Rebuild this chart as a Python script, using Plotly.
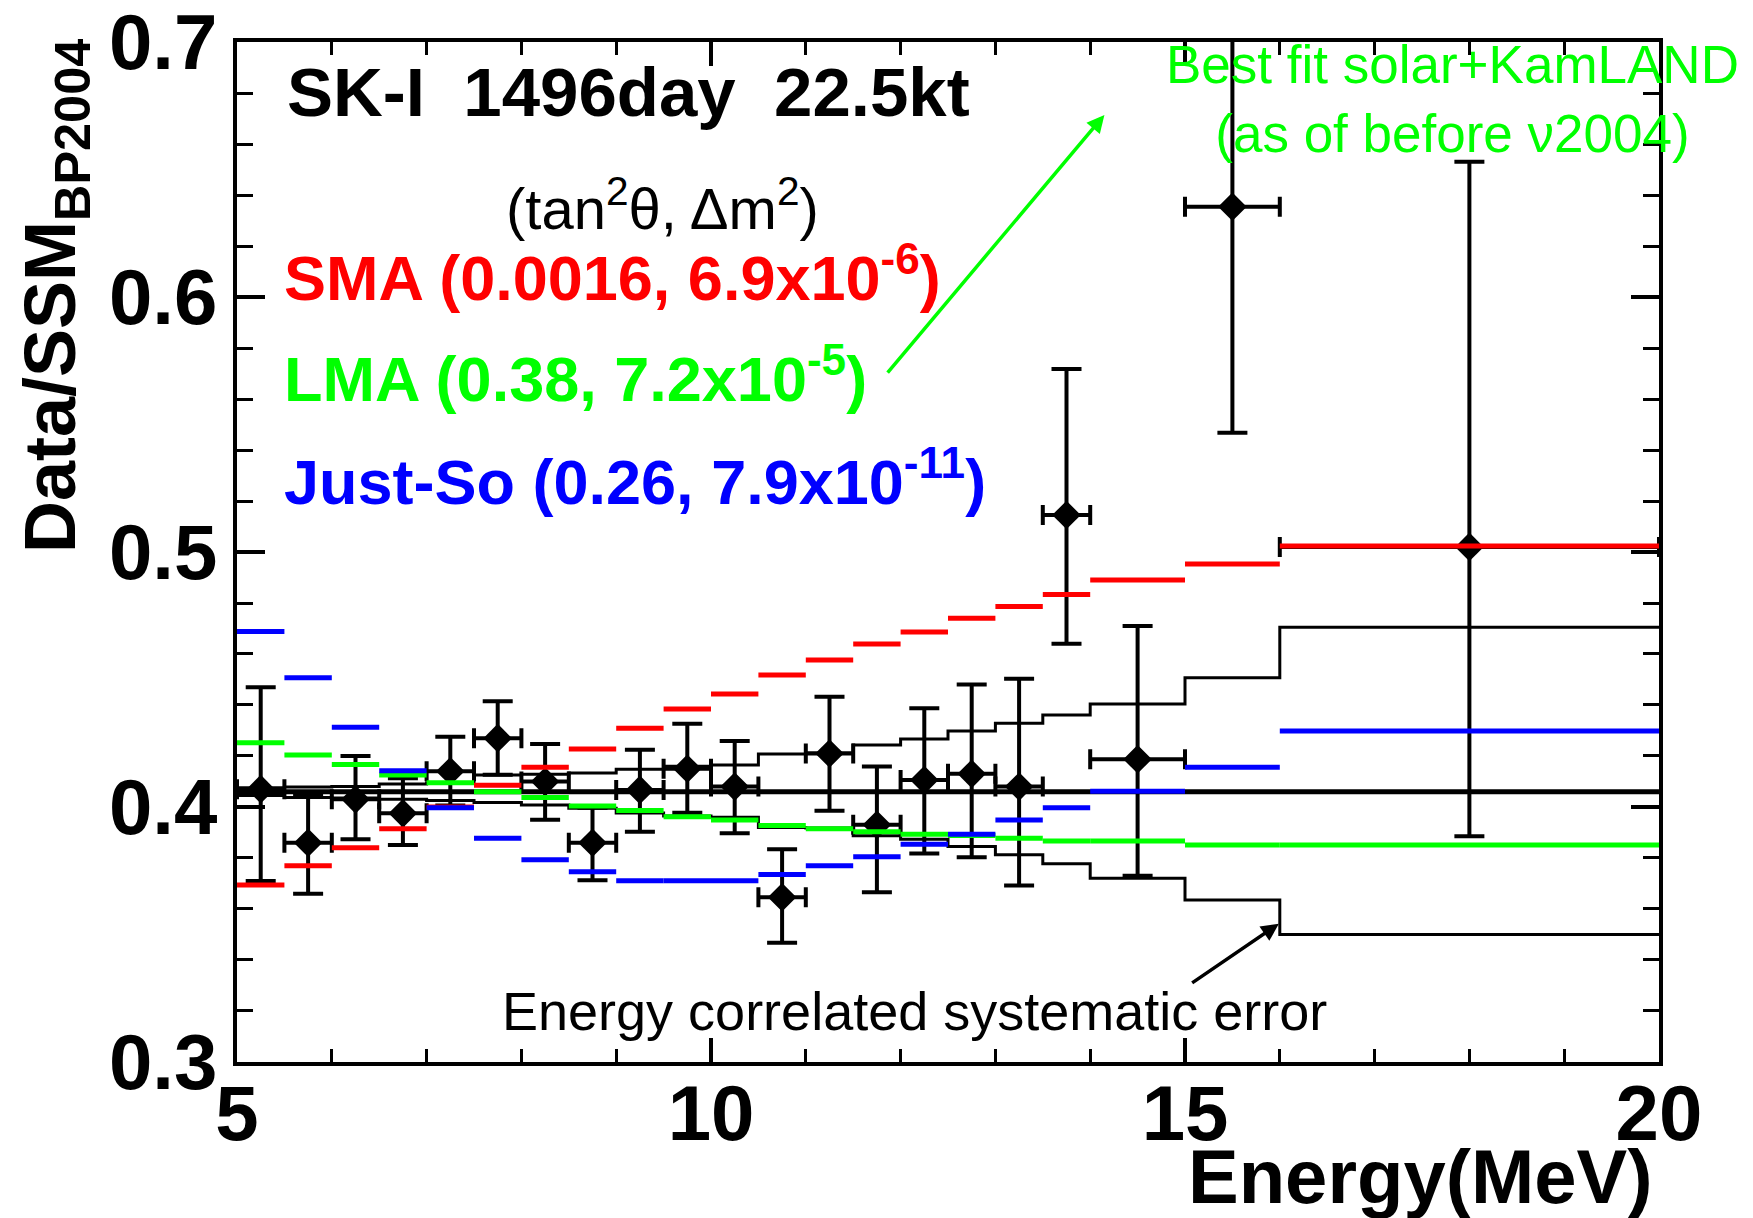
import plotly.graph_objects as go

# ---------------- data ----------------
bin_lo = [5.0, 5.5, 6.0, 6.5, 7.0, 7.5, 8.0, 8.5, 9.0, 9.5, 10.0, 10.5, 11.0, 11.5, 12.0, 12.5, 13.0, 13.5, 14.0, 15.0, 16.0]
bin_hi = [5.5, 6.0, 6.5, 7.0, 7.5, 8.0, 8.5, 9.0, 9.5, 10.0, 10.5, 11.0, 11.5, 12.0, 12.5, 13.0, 13.5, 14.0, 15.0, 16.0, 20.0]
energy = [5.25, 5.75, 6.25, 6.75, 7.25, 7.75, 8.25, 8.75, 9.25, 9.75, 10.25, 10.75, 11.25, 11.75, 12.25, 12.75, 13.25, 13.75, 14.5, 15.5, 18.0]
energy_halfwidth = [0.25] * 18 + [0.5, 0.5, 2.0]

ratio = [0.407, 0.386, 0.403, 0.3975, 0.414, 0.427, 0.410, 0.386, 0.4067, 0.415, 0.408,
         0.3646, 0.421, 0.393, 0.4106, 0.413, 0.408, 0.5145, 0.4187, 0.6354, 0.502]
err_up = [0.040, 0.019, 0.017, 0.0138, 0.0135, 0.0145, 0.0147, 0.0137, 0.0157, 0.0176, 0.0179,
          0.0188, 0.0222, 0.0229, 0.0281, 0.035, 0.0423, 0.0573, 0.0523, 0.089, 0.151]
err_dn = [0.036, 0.020, 0.0157, 0.0124, 0.0134, 0.0144, 0.015, 0.0147, 0.0164, 0.0173, 0.0183,
          0.0178, 0.0225, 0.0264, 0.0288, 0.0327, 0.0388, 0.0505, 0.0457, 0.0886, 0.1135]

flat_ratio = 0.406

sys_upper = [0.4075, 0.4078, 0.408, 0.409, 0.4095, 0.4125, 0.4128, 0.4133, 0.4148, 0.416, 0.4165,
             0.4208, 0.4212, 0.4243, 0.4267, 0.4298, 0.4328, 0.4361, 0.4404, 0.4507, 0.4705]
sys_lower = [0.4045, 0.4037, 0.4035, 0.403, 0.4025, 0.4018, 0.4008, 0.3995, 0.3976, 0.3965, 0.396,
             0.392, 0.3918, 0.3887, 0.3873, 0.3845, 0.3813, 0.3777, 0.3721, 0.3635, 0.3500]

sma = [0.3694, 0.377, 0.384, 0.3915, 0.400, 0.4085, 0.4156, 0.4227, 0.4309, 0.4384, 0.4443,
       0.4518, 0.4576, 0.4639, 0.4686, 0.474, 0.4786, 0.4833, 0.489, 0.4953, 0.5024]
lma = [0.4252, 0.4204, 0.4167, 0.4125, 0.4095, 0.406, 0.4037, 0.4004, 0.3986, 0.3962, 0.3949,
       0.3927, 0.3915, 0.3903, 0.3893, 0.3888, 0.3877, 0.3867, 0.3867, 0.3851, 0.3851]
justso = [0.4688, 0.4507, 0.4313, 0.4142, 0.3997, 0.3877, 0.3793, 0.3746, 0.3711, 0.3711, 0.3711,
          0.3735, 0.377, 0.3805, 0.3854, 0.3893, 0.3949, 0.3997, 0.4062, 0.4156, 0.4298]

x_ticks = [5, 10, 15, 20]
y_ticks = [0.3, 0.4, 0.5, 0.6, 0.7]

FONT = "Liberation Sans, Arial, Helvetica, sans-serif"
RED, GREEN, BLUE = "#ff0000", "#00ff00", "#0000ff"


def segments(vals):
    xs, ys = [], []
    for lo, hi, v in zip(bin_lo, bin_hi, vals):
        xs += [lo, hi, None]
        ys += [v, v, None]
    return xs, ys


def model_trace(vals, color):
    xs, ys = segments(vals)
    return go.Scatter(x=xs, y=ys, mode="lines", line=dict(color=color, width=5),
                      connectgaps=False, showlegend=False, hoverinfo="skip")


fig = go.Figure()

for band in (sys_upper, sys_lower):
    fig.add_trace(go.Scatter(x=bin_lo + [bin_hi[-1]], y=band + [band[-1]], mode="lines",
                             line=dict(color="black", width=3, shape="hv"),
                             showlegend=False, hoverinfo="skip"))

fig.add_trace(go.Scatter(x=[bin_lo[0], bin_hi[-1]], y=[flat_ratio, flat_ratio], mode="lines",
                         line=dict(color="black", width=5), showlegend=False, hoverinfo="skip"))

fig.add_trace(go.Scatter(
    x=energy, y=ratio, mode="markers",
    marker=dict(symbol="diamond", size=22, color="black"),
    error_x=dict(type="data", array=energy_halfwidth, color="black", thickness=4, width=10),
    error_y=dict(type="data", symmetric=False, array=err_up, arrayminus=err_dn,
                 color="black", thickness=4, width=15),
    showlegend=False, cliponaxis=True))

fig.add_trace(model_trace(sma, RED))
fig.add_trace(model_trace(lma, GREEN))
fig.add_trace(model_trace(justso, BLUE))


def px_x(px):
    return (px - 237) / 1422


def px_y(py):
    return (1062 - py) / 1020


annotations = [
    dict(text="<b>SK-I  1496day  22.5kt</b>", x=px_x(285), y=px_y(92), xanchor="left", yanchor="middle",
         font=dict(size=69, color="black")),
    dict(text="(tan<sup>2</sup>θ, Δm<sup>2</sup>)", x=px_x(504), y=px_y(204),
         xanchor="left", yanchor="middle", font=dict(size=58, color="black")),
    dict(text="<b>SMA (0.0016, 6.9x10<sup>-6</sup>)</b>", x=px_x(282), y=px_y(273),
         xanchor="left", yanchor="middle", font=dict(size=63, color=RED)),
    dict(text="<b>LMA (0.38, 7.2x10<sup>-5</sup>)</b>", x=px_x(282), y=px_y(375),
         xanchor="left", yanchor="middle", font=dict(size=63, color=GREEN)),
    dict(text="<b>Just-So (0.26, 7.9x10<sup>-11</sup>)</b>", x=px_x(282), y=px_y(477),
         xanchor="left", yanchor="middle", font=dict(size=63, color=BLUE)),
    dict(text="Best fit solar+KamLAND<br>(as of before ν2004)", x=px_x(1452), y=px_y(99),
         xanchor="center", yanchor="middle", font=dict(size=53, color=GREEN)),
    dict(text="Energy correlated systematic error", x=px_x(914), y=px_y(1011),
         xanchor="center", yanchor="middle", font=dict(size=54, color="black")),
    dict(text="<b>Energy(MeV)</b>", x=px_x(1655), y=px_y(1176),
         xanchor="right", yanchor="middle", font=dict(size=76, color="black")),
    dict(text="<b>Data/SSM<sub>BP2004</sub></b>", x=px_x(55), y=px_y(296),
         xanchor="center", yanchor="middle", textangle=-90, font=dict(size=72, color="black")),
]
for a in annotations:
    a.update(xref="paper", yref="paper", showarrow=False)

# arrows
annotations.append(dict(x=14.15, y=0.6714, ax=11.85, ay=0.5698, xref="x", yref="y", axref="x", ayref="y",
                        text="", showarrow=True, arrowhead=2, arrowsize=1, arrowwidth=3.5, arrowcolor=GREEN))
annotations.append(dict(x=15.99, y=0.3542, ax=15.06, ay=0.3306, xref="x", yref="y", axref="x", ayref="y",
                        text="", showarrow=True, arrowhead=2, arrowsize=1, arrowwidth=3.5, arrowcolor="black"))

fig.update_layout(
    width=1753, height=1218,
    margin=dict(l=237, r=94, t=42, b=156, autoexpand=False),
    paper_bgcolor="white", plot_bgcolor="white",
    font=dict(family=FONT, color="black"),
    annotations=annotations,
    showlegend=False,
)

fig.update_xaxes(
    range=[4.9999, 20.0001], tickvals=x_ticks, ticktext=[str(v) for v in x_ticks],
    ticks="inside", ticklen=24, tickwidth=4, tickcolor="black",
    minor=dict(dtick=1, ticks="inside", ticklen=13, tickwidth=3, tickcolor="black"),
    showline=True, linewidth=4, linecolor="black", mirror="ticks",
    showgrid=False, zeroline=False, ticklabelstandoff=-20, ticklabeloverflow="allow",
    automargin=False,
    tickfont=dict(size=78, family=FONT, weight="bold", color="black"),
)
fig.update_yaxes(
    range=[0.29999, 0.70001], tickvals=y_ticks, ticktext=["%.1f" % v for v in y_ticks],
    ticks="inside", ticklen=28, tickwidth=4, tickcolor="black",
    minor=dict(dtick=0.02, ticks="inside", ticklen=16, tickwidth=3, tickcolor="black"),
    showline=True, linewidth=4, linecolor="black", mirror="ticks",
    showgrid=False, zeroline=False, ticklabeloverflow="allow",
    automargin=False,
    tickfont=dict(size=78, family=FONT, weight="bold", color="black"),
)

fig.write_html("out.html")
